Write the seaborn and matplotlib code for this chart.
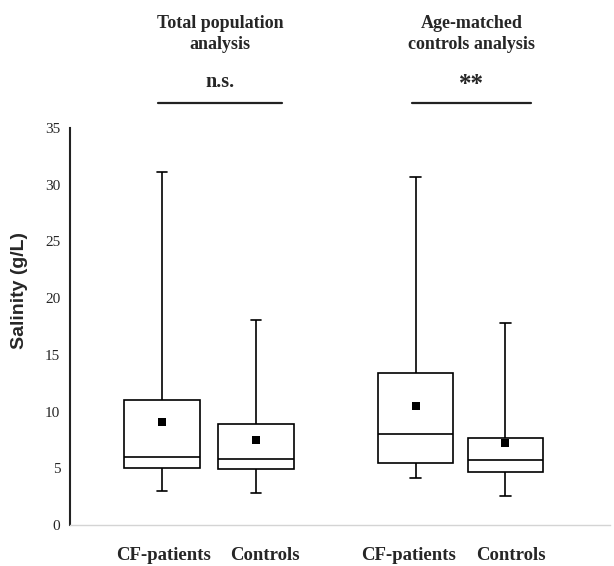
import numpy as np
import pandas as pd
import matplotlib
matplotlib.use("Agg")
import matplotlib.pyplot as plt
import seaborn as sns

# values (g/L)
groups = ["CF-patients", "Controls", "CF-patients", "Controls"]
positions = [1.0, 2.0, 3.7, 4.65]
label_positions = [1.02, 2.10, 3.62, 4.71]
mins = [3.0, 2.8, 4.1, 2.6]
q1s = [5.0, 4.9, 5.5, 4.7]
medians = [6.0, 5.8, 8.0, 5.7]
q3s = [11.0, 8.9, 13.4, 7.7]
maxs = [31.1, 18.1, 30.7, 17.8]
means = [9.1, 7.5, 10.5, 7.2]

panel_titles = ["Total population\nanalysis", "Age-matched\ncontrols analysis"]
panel_signif = ["n.s.", "**"]

# five points per box give exactly these quartiles with linear interpolation
rows = []
for i, p in enumerate(positions):
    for v in (mins[i], q1s[i], medians[i], q3s[i], maxs[i]):
        rows.append({"pos": p, "salinity": v})
df = pd.DataFrame(rows)
mean_df = pd.DataFrame({"pos": positions, "salinity": means})

sns.set_style("white")
plt.rcParams["font.family"] = ["Liberation Serif", "DejaVu Serif"]

fig = plt.figure(figsize=(6.14, 5.66), dpi=100)
ax = fig.add_axes([70 / 614, 41 / 566, 540 / 614, 397 / 566])

sns.boxplot(
    data=df, x="pos", y="salinity", native_scale=True, whis=np.inf,
    width=0.8 / 0.95, color="white", linecolor="black", linewidth=1.2,
    capwidths=0.115, ax=ax,
)
sns.scatterplot(
    data=mean_df, x="pos", y="salinity", marker="s", s=40,
    color="black", edgecolor="black", linewidth=0, zorder=5, ax=ax,
)

ax.set_xlim(0.021, 5.766)
ax.set_ylim(0, 35)
ax.set_yticks(range(0, 36, 5))
ax.set_xticks(label_positions)
ax.set_xticklabels(groups, fontsize=13.5, fontweight="bold")
ax.tick_params(axis="x", length=0, pad=16)
ax.tick_params(axis="y", length=0, pad=7, labelsize=11)
ax.set_xlabel("")
ax.set_ylabel("Salinity (g/L)", fontsize=14, fontweight="bold",
              family=["Liberation Sans", "DejaVu Sans"])
ax.yaxis.set_label_coords(-0.078, 0.59)

sns.despine(ax=ax)
ax.spines["left"].set_color("#222222")
ax.spines["left"].set_linewidth(1.5)
ax.spines["bottom"].set_color("#d4d4d4")
ax.spines["bottom"].set_linewidth(1.0)

# significance bars and panel titles above the axes
signif_style = {"n.s.": (14.5, 38.6), "**": (18, 38.25)}
for k in range(2):
    x0 = positions[2 * k] - 0.045
    x1 = positions[2 * k + 1] + 0.28
    xm = (x0 + x1) / 2
    size, base = signif_style[panel_signif[k]]
    ax.plot([x0, x1], [37.2, 37.2], color="#222222", lw=1.6, clip_on=False)
    ax.text(xm, base, panel_signif[k], ha="center", va="baseline",
            fontsize=size, fontweight="bold")
    ax.text(xm, 43.3, panel_titles[k], ha="center", va="center",
            fontsize=13, fontweight="bold", linespacing=1.3)

fig.savefig("out.png", dpi=100)
